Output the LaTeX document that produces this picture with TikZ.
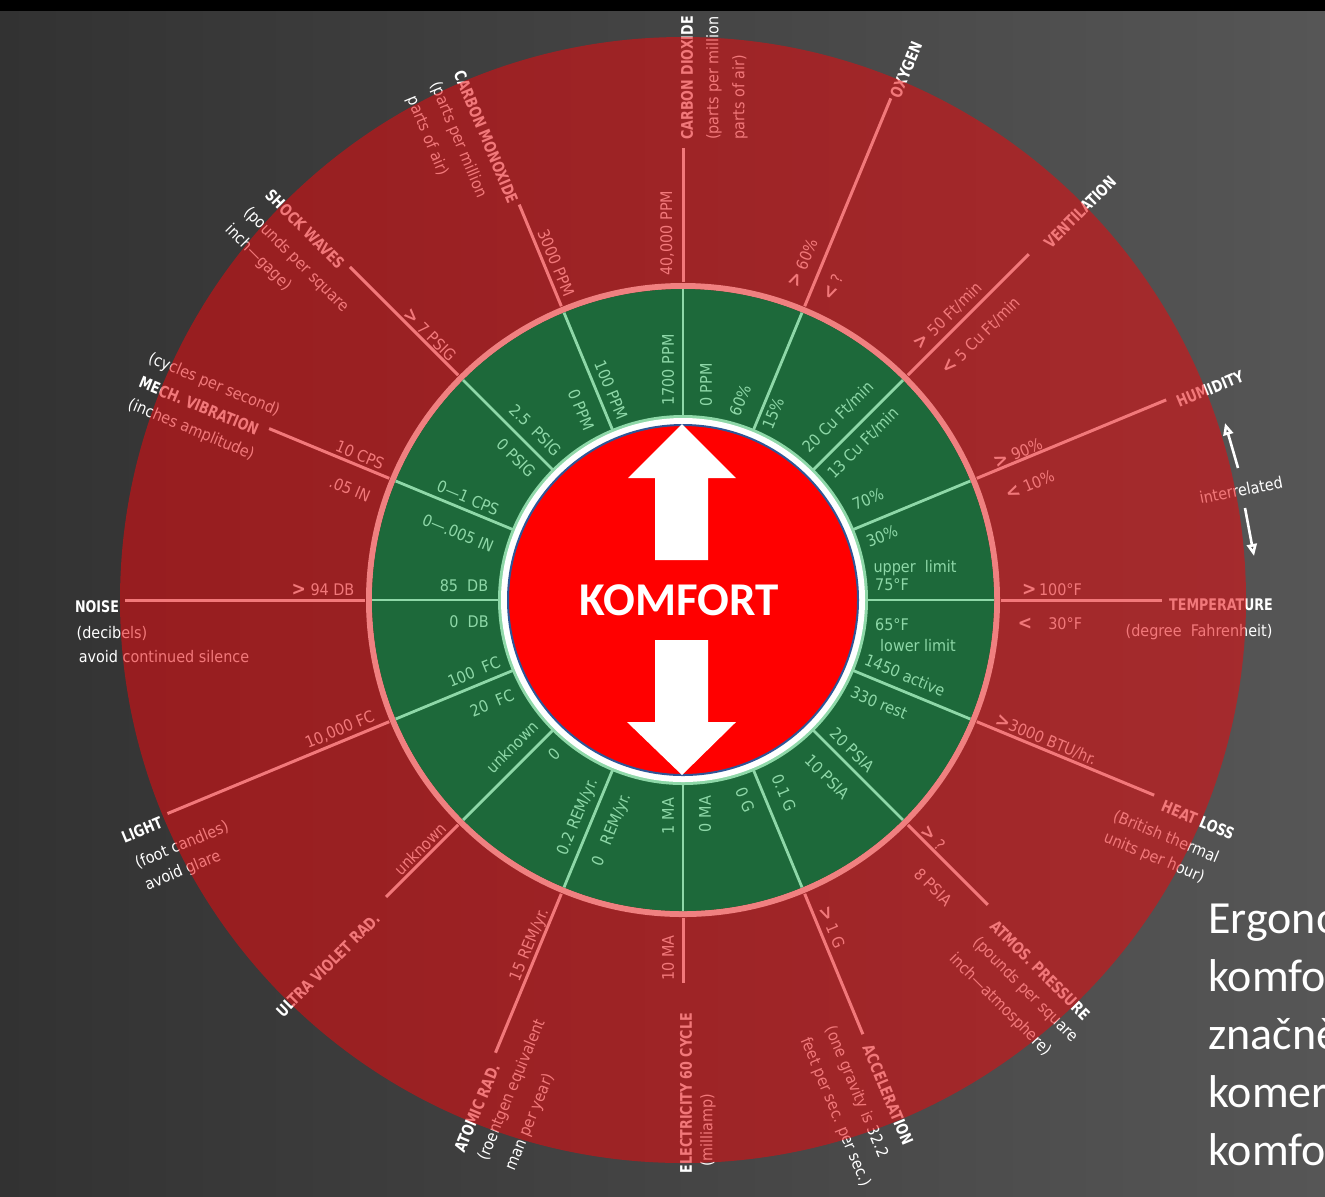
\documentclass[tikz,border=0pt]{standalone}
\usepackage{fontspec}
\usetikzlibrary{arrows.meta}
\newfontfamily\dcond{DejaVu Sans Condensed}
\newfontfamily\dtitle[FakeStretch=0.88]{DejaVu Sans Condensed}
\newfontfamily\carl{Carlito}
\definecolor{bgA}{RGB}{50,50,50}
\definecolor{bgB}{RGB}{86,86,86}
\definecolor{redov}{RGB}{232,10,14}
\definecolor{pinkl}{RGB}{240,128,128}
\definecolor{grn}{RGB}{29,105,58}
\definecolor{lgrn}{RGB}{142,216,168}
\definecolor{komred}{RGB}{255,0,0}
\definecolor{kblue}{RGB}{47,85,151}
\newcommand\GrC{{\bfseries\fontsize{9.5}{9.5}\selectfont >}}
\newcommand\LsC{{\bfseries\fontsize{9.5}{9.5}\selectfont <}}
\tikzset{
  otxt/.style={text=white, font=\dcond\fontsize{8}{9}\selectfont, inner sep=0pt},
  ottl/.style={text=white, font=\dtitle\bfseries\fontsize{8}{9}\selectfont, inner sep=0pt},
  gtxt/.style={text=lgrn, font=\dcond\fontsize{8}{9}\selectfont, inner sep=0pt},
  ospoke/.style={white, line width=1.5pt},
  gspoke/.style={lgrn, line width=1.4pt},
  iarrow/.style={white, line width=1.3pt, -{Triangle[open, length=6pt, width=5pt]}},
  ergo/.style={text=white, font=\carl\fontsize{23}{28}\selectfont, inner sep=0pt, anchor=base west},
}
\begin{document}
\begin{tikzpicture}[x=0.5pt,y=-0.5pt]
\useasboundingbox (0,0) rectangle (1325,1196);
\clip (0,0) rectangle (1325,1196);
\shade[left color=bgA, right color=bgB] (0,0) rectangle (1325,1196);
\fill[black] (0,0) rectangle (1325,11);
\coordinate (C) at (683,600);

% ---------- outer spokes (white, tinted by overlay) ----------
\begin{scope}[shift={(683,600)}]
\foreach \i/\a/\r in {1/90/452, 2/112.5/428, 3/135/471, 4/157.5/448, 5/180/558,
  6/-157.5/558, 7/-135/420, 8/-112.5/490, 9/-90/383, 10/-67.5/470, 11/-45/431,
  12/-22.5/510, 13/0/479, 14/22.5/523, 15/45/489, 16/67.5/543}{
  \coordinate (so\i) at ({-1*(\a)}:318);
  \coordinate (se\i) at ({-1*(\a)}:\r);
  \draw[ospoke] (so\i) -- (se\i);
}
\end{scope}

% ---------- outer labels ----------
% carbon dioxide
\node[otxt, rotate=90] (co2v) at (667,233) {40,000 PPM};
\node[ottl, rotate=90] (co2t) at (687,78) {CARBON DIOXIDE};
\node[otxt, rotate=90] (co2a) at (714,78) {(parts per million};
\node[otxt, rotate=90] (co2b) at (740,97) {parts of air)};
% carbon monoxide
\node[otxt, rotate=-67.5] (cov) at (556,263) {3000 PPM};
\node[ottl, rotate=-67.5] (cot) at (486,137) {CARBON MONOXIDE};
\node[otxt, rotate=-67.5] (coa) at (458,140) {(parts per million};
\node[otxt, rotate=-67.5] (cob) at (427,136) {parts of air)};
% oxygen
\node[otxt, rotate=67.5] (o2v) at (803,263) {\GrC\ 60\%};
\node[otxt, rotate=67.5] (o2w) at (833,287) {\LsC\ ?};
\node[ottl, rotate=67.5] (o2t) at (906,70) {OXYGEN};
% ventilation
\node[otxt, rotate=45] (vev) at (948,316) {\GrC\ 50 Ft/min};
\node[otxt, rotate=45] (vew) at (981,336) {\LsC\ 5 Cu Ft/min};
\node[ottl, rotate=45] (vet) at (1080,212) {VENTILATION};
% humidity
\node[otxt, rotate=22.5] (huv) at (1018,453) {\GrC\ 90\%};
\node[otxt, rotate=22.5] (huw) at (1030,485) {\LsC\ 10\%};
\node[ottl, rotate=22.5] (hut) at (1210,389) {HUMIDITY};
\node[otxt, rotate=11] (inter) at (1241,490) {interrelated};
\coordinate (iu1) at (1238,468);
\coordinate (iu2) at (1225,423);
\coordinate (id1) at (1245,508);
\coordinate (id2) at (1254,556);
\draw[iarrow] (iu1) -- (iu2);
\draw[iarrow] (id1) -- (id2);
% temperature
\node[otxt] (tev) at (1052,590) {\GrC\,100°F};
\node[otxt] (tew) at (1050,624) {\LsC\quad 30°F};
\node[ottl] (tet) at (1221,605) {TEMPERATURE};
\node[otxt] (tea) at (1199,632) {(degree~~Fahrenheit)};
% heat loss
\node[otxt, rotate=-22.5] (hev) at (1046,740) {\GrC3000 BTU/hr.};
\node[ottl, rotate=-22.5] (het) at (1198,820) {HEAT LOSS};
\node[otxt, rotate=-22.5] (hea) at (1166,837) {(British thermal};
\node[otxt, rotate=-22.5] (heb) at (1154,858) {units per hour)};
% atmospheric pressure
\node[otxt, rotate=-45] (atv) at (933,838) {\GrC\ ?};
\node[otxt, rotate=-45] (atw) at (933,887) {8 PSIA};
\node[ottl, rotate=-45] (att) at (1040,970) {ATMOS. PRESSURE};
\node[otxt, rotate=-45] (ata) at (1025,990) {(pounds per square};
\node[otxt, rotate=-45] (atb) at (1000,1005) {inch—atmosphere)};
% acceleration
\node[otxt, rotate=-67.5] (acv) at (832,927) {\GrC\ 1 G};
\node[ottl, rotate=-67.5] (act) at (888,1095) {ACCELERATION};
\node[otxt, rotate=-67.5] (aca) at (856,1092) {(one gravity is 32.2};
\node[otxt, rotate=-67.5] (acb) at (835,1112) {feet per sec. per sec.)};
% electricity
\node[otxt, rotate=90] (elv) at (668,958) {10 MA};
\node[ottl, rotate=90] (elt) at (686,1093) {ELECTRICITY 60 CYCLE};
\node[otxt, rotate=90] (ela) at (708,1130) {(milliamp)};
% atomic radiation
\node[otxt, rotate=67.5] (amv) at (530,945) {15 REM/yr.};
\node[ottl, rotate=67.5] (amt) at (477,1108) {ATOMIC RAD.};
\node[otxt, rotate=67.5] (ama) at (512,1090) {(roentgen equivalent};
\node[otxt, rotate=67.5] (amb) at (530,1122) {man per year)};
% ultra violet
\node[otxt, rotate=45] (uvv) at (420,849) {unknown};
\node[ottl, rotate=45] (uvt) at (328,965) {ULTRA VIOLET RAD.};
% light
\node[otxt, rotate=22.5] (liv) at (340,730) {10,000 FC};
\node[ottl, rotate=22.5] (lit) at (142,830) {LIGHT};
\node[otxt, rotate=22.5] (lia) at (182,845) {(foot candles)};
\node[otxt, rotate=22.5] (lib) at (183,871) {avoid glare};
% noise
\node[otxt] (nov) at (323,590) {\GrC\ 94 DB};
\node[ottl] (not) at (97,607) {NOISE};
\node[otxt] (noa) at (112,633) {(decibels)};
\node[otxt] (nob) at (164,657) {avoid continued silence};
% mechanical vibration
\node[otxt, rotate=-22.5] (mev) at (360,455) {10 CPS};
\node[otxt, rotate=-22.5] (mew) at (350,489) {.05 IN};
\node[otxt, rotate=-22.5] (mea) at (214,385) {(cycles per second)};
\node[ottl, rotate=-22.5] (met) at (199,406) {MECH. VIBRATION};
\node[otxt, rotate=-22.5] (meb) at (191,430) {(inches amplitude)};
% shock waves
\node[otxt, rotate=-45] (shv) at (430,335) {\GrC\ 7 PSIG};
\node[ottl, rotate=-45] (sht) at (305,229) {SHOCK WAVES};
\node[otxt, rotate=-45] (sha) at (296,260) {(pounds per square};
\node[otxt, rotate=-45] (shb) at (258,258) {inch—gage)};

% ---------- red translucent disk ----------
\fill[redov, fill opacity=0.55] (C) circle[radius=563];
\draw[pinkl, line width=3pt] (C) circle[radius=314];

% ---------- green ring ----------
\fill[grn] (C) circle[radius=311];
\begin{scope}[shift={(683,600)}]
\foreach \i/\a in {1/90, 2/112.5, 3/135, 4/157.5, 5/180, 6/-157.5, 7/-135, 8/-112.5,
  9/-90, 10/-67.5, 11/-45, 12/-22.5, 13/0, 14/22.5, 15/45, 16/67.5}{
  \coordinate (gi\i) at ({-1*(\a)}:184);
  \coordinate (go\i) at ({-1*(\a)}:311);
  \draw[gspoke] (gi\i) -- (go\i);
}
\end{scope}
\node[gtxt, rotate=-45] (gsh1) at (535,430) {2.5~~PSIG};
\node[gtxt, rotate=-45] (gsh2) at (516,458) {0 PSIG};
\node[gtxt, rotate=-67.5] (gco1) at (611,390) {100 PPM};
\node[gtxt, rotate=-67.5] (gco2) at (581,410) {0 PPM};
\node[gtxt, rotate=90] (gc21) at (668,370) {1700 PPM};
\node[gtxt, rotate=90] (gc22) at (706,385) {0 PPM};
\node[gtxt, rotate=67.5] (go21) at (740,400) {60\%};
\node[gtxt, rotate=67.5] (go22) at (773,413) {15\%};
\node[gtxt, rotate=45] (gve1) at (838,417) {20 Cu Ft/min};
\node[gtxt, rotate=45] (gve2) at (863,443) {13 Cu Ft/min};
\node[gtxt, rotate=22.5] (ghu1) at (868,499) {70\%};
\node[gtxt, rotate=22.5] (ghu2) at (882,536) {30\%};
\node[gtxt] (gte1) at (915,568) {upper~~limit};
\node[gtxt] (gte2) at (892,585) {75°F};
\node[gtxt] (gte3) at (892,625) {65°F};
\node[gtxt] (gte4) at (918,646) {lower limit};
\node[gtxt, rotate=-22.5] (ghe1) at (905,675) {1450 active};
\node[gtxt, rotate=-22.5] (ghe2) at (879,703) {330 rest};
\node[gtxt, rotate=-45] (gat1) at (852,750) {20 PSIA};
\node[gtxt, rotate=-45] (gat2) at (827,777) {10 PSIA};
\node[gtxt, rotate=-67.5] (gac1) at (784,793) {0.1 G};
\node[gtxt, rotate=-67.5] (gac2) at (745,800) {0 G};
\node[gtxt, rotate=90] (gel1) at (705,814) {0 MA};
\node[gtxt, rotate=90] (gel2) at (668,816) {1 MA};
\node[gtxt, rotate=67.5] (gam1) at (612,830) {0~~~REM/yr.};
\node[gtxt, rotate=67.5] (gam2) at (578,817) {0.2 REM/yr.};
\node[gtxt, rotate=45] (guv1) at (554,754) {0};
\node[gtxt, rotate=45] (guv2) at (512,747) {unknown};
\node[gtxt, rotate=22.5] (gli1) at (492,703) {20~~FC};
\node[gtxt, rotate=22.5] (gli2) at (474,672) {100~~FC};
\node[gtxt] (gno1) at (469,622) {0~~DB};
\node[gtxt] (gno2) at (464,586) {85~~DB};
\node[gtxt, rotate=-22.5] (gme1) at (458,533) {0—.005 IN};
\node[gtxt, rotate=-22.5] (gme2) at (468,498) {0—1 CPS};

% ---------- centre ----------
\fill[lgrn] (C) circle[radius=185];
\fill[white] (C) circle[radius=182];
\filldraw[fill=komred, draw=kblue, line width=1pt] (C) circle[radius=175];
\fill[white] (682,424) -- (736,478) -- (708,478) -- (708,560) -- (655,560) -- (655,478) -- (628,478) -- cycle;
\fill[white] (655,640) -- (708,640) -- (708,722) -- (736,722) -- (682,775) -- (627,722) -- (655,722) -- cycle;
\node[text=white, font=\carl\bfseries\fontsize{23.5}{24}\selectfont, inner sep=0pt] (komfort) at (679,600) {KOMFORT};

% ---------- side text (cut by the frame, as in the reference) ----------
\node[ergo] (erg1) at (1208,933) {Ergono};
\node[ergo] (erg2) at (1208,991) {komfor};
\node[ergo] (erg3) at (1208,1049) {značně};
\node[ergo] (erg4) at (1208,1107) {komerč};
\node[ergo] (erg5) at (1208,1165) {komfor};
\end{tikzpicture}
\end{document}
